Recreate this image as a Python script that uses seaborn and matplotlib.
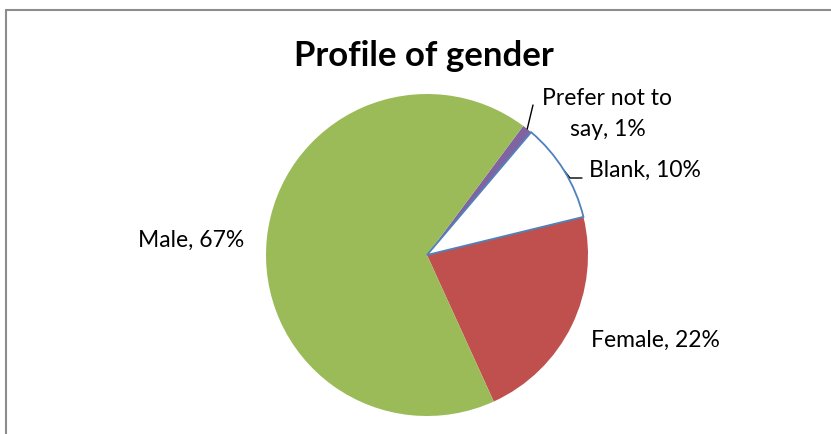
import matplotlib
matplotlib.use("Agg")
import matplotlib.pyplot as plt
import seaborn as sns
import numpy as np

categories = ["Female", "Blank", "Prefer not to say", "Male"]
values = [22, 10, 1, 67]
label_texts = ["Female, 22%", "Blank, 10%", "Prefer not to\nsay, 1%", "Male, 67%"]
colors = ["#C0504D", "#FFFFFF", "#8064A2", "#9BBB59"]
title = "Profile of gender"

sns.set_theme(style="white")
plt.rcParams['font.family'] = ['Lato', 'DejaVu Sans']

W, H = 831, 434
fig = plt.figure(figsize=(W / 100, H / 100), dpi=100)
ax = fig.add_axes([0, 0, 1, 1])

cx, cy, r = 427, H - 255, 161
wedges, _ = ax.pie(values, colors=colors, startangle=-65.5, counterclock=True,
                   center=(cx, cy), radius=r, frame=True,
                   wedgeprops=dict(linewidth=0))
ax.set_xlim(0, W)
ax.set_ylim(0, H)
ax.axis("off")
# Blank wedge outline
wedges[1].set_edgecolor("#4F81BD")
wedges[1].set_linewidth(1.3)
wedges[1].set_zorder(5)

# frame lines (partial border)
ax.plot([5.5, 5.5], [0, H - 9.5], color="#8C8C8C", lw=1.5, clip_on=False)
ax.plot([5.5, W], [H - 9.5, H - 9.5], color="#8C8C8C", lw=1.5, clip_on=False)

ax.text(424, H - 66, title, ha="center", va="baseline", fontsize=25, fontweight="bold", color="black")

fs = 16.5
ax.text(191, H - 247, label_texts[3], ha="center", va="baseline", fontsize=fs, color="black")
ax.text(655.5, H - 347, label_texts[0], ha="center", va="baseline", fontsize=fs, color="black")
ax.text(645, H - 177, label_texts[1], ha="center", va="baseline", fontsize=fs, color="black")
l1, l2 = label_texts[2].split("\n")
ax.text(607.5, H - 105, l1, ha="center", va="baseline", fontsize=fs, color="black")
ax.text(607.5, H - 136, l2, ha="center", va="baseline", fontsize=fs, color="black")

# leader lines
def edge_point(w):
    ang = np.deg2rad((w.theta1 + w.theta2) / 2)
    return cx + r * np.cos(ang), cy + r * np.sin(ang)

px, py = edge_point(wedges[2])
ax.plot([px, 533], [py, H - 105], color="black", lw=1)
bx, by = edge_point(wedges[1])
ax.plot([bx, 570, 582], [by, H - 178, H - 178], color="black", lw=1)

fig.savefig("out.png", dpi=100, facecolor="white")
